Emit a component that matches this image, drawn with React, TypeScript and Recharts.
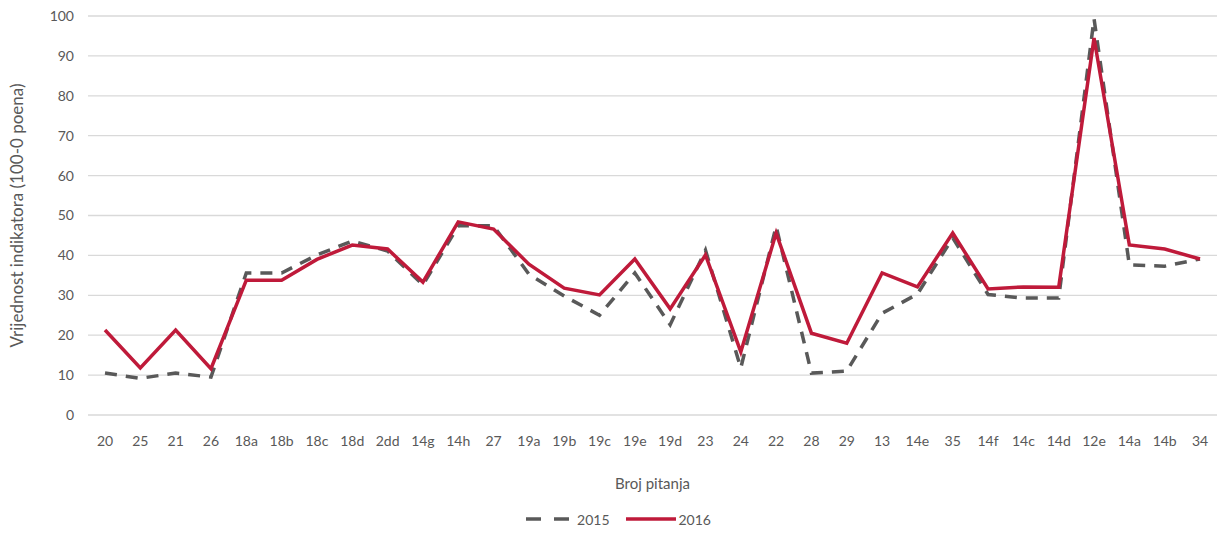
import {
  LineChart,
  Line,
  XAxis,
  YAxis,
  CartesianGrid,
  Legend,
} from 'recharts';

const questions = [
  '20', '25', '21', '26', '18a', '18b', '18c', '18d', '2dd', '14g', '14h',
  '27', '19a', '19b', '19c', '19e', '19d', '23', '24', '22', '28', '29',
  '13', '14e', '35', '14f', '14c', '14d', '12e', '14a', '14b', '34',
];

const values2015 = [
  10.5, 9.2, 10.5, 9.5, 35.6, 35.6, 40.1, 43.6, 41.1, 32.6, 47.4,
  47.4, 35.3, 29.8, 25, 35.6, 22.6, 41.3, 11.8, 47.3, 10.5, 11,
  25.5, 30.3, 44.4, 30.2, 29.3, 29.3, 99.3, 37.6, 37.3, 39.1,
];

const values2016 = [
  21.3, 11.8, 21.3, 11.6, 33.8, 33.8, 39, 42.6, 41.6, 33.3, 48.4,
  46.6, 37.8, 31.8, 30.1, 39.1, 26.6, 40.1, 15.8, 45.6, 20.5, 18,
  35.6, 32.1, 45.6, 31.6, 32.1, 32, 94.5, 42.6, 41.6, 39.1,
];

const yTicks = [0, 10, 20, 30, 40, 50, 60, 70, 80, 90, 100];

const data = questions.map((q, i) => ({
  q,
  y2015: values2015[i],
  y2016: values2016[i],
}));

const textColor = '#595959';
const font = 'Lato, "Open Sans", sans-serif';

function ChartLegend() {
  return (
    <div
      style={{
        height: 40,
        display: 'flex',
        justifyContent: 'center',
        alignItems: 'center',
        fontFamily: font,
        fontSize: 14,
        color: textColor,
        paddingLeft: 20,
        paddingTop: 12,
        boxSizing: 'border-box',
      }}
    >
      <svg width={46} height={10} style={{ marginRight: 5 }}>
        <line x1={0} y1={5} x2={46} y2={5} stroke="#595959" strokeWidth={3.5} strokeDasharray="15 13" />
      </svg>
      <span style={{ marginRight: 16 }}>2015</span>
      <svg width={50} height={10} style={{ marginRight: 3 }}>
        <line x1={0} y1={5} x2={50} y2={5} stroke="#bf1a3a" strokeWidth={3.5} />
      </svg>
      <span>2016</span>
    </div>
  );
}

export default function App() {
  return (
    <div style={{ position: 'absolute', left: 0, top: 0, background: '#fff' }}>
      <LineChart
        width={1217}
        height={533}
        data={data}
        margin={{ top: 16, right: 0, left: 0, bottom: 0 }}
      >
        <CartesianGrid vertical={false} stroke="#d9d9d9" strokeWidth={1.3} />
        <XAxis
          dataKey="q"
          axisLine={false}
          tickLine={false}
          interval={0}
          height={78}
          tickMargin={15}
          padding={{ left: 17, right: 17 }}
          tick={{ fill: textColor, fontSize: 14, fontFamily: font }}
          label={{
            value: 'Broj pitanja',
            position: 'insideBottom',
            offset: 4,
            fill: textColor,
            fontSize: 15,
            fontFamily: font,
          }}
        />
        <YAxis
          width={88}
          domain={[0, 100]}
          ticks={yTicks}
          axisLine={false}
          tickLine={false}
          tickMargin={8}
          tick={{ fill: textColor, fontSize: 14, fontFamily: font }}
          label={{
            value: 'Vrijednost indikatora (100-0 poena)',
            angle: -90,
            position: 'insideLeft',
            offset: 17,
            style: { textAnchor: 'middle' },
            fill: textColor,
            fontSize: 17,
            fontFamily: font,
          }}
        />
        <Legend verticalAlign="bottom" content={<ChartLegend />} />
        <Line
          dataKey="y2015"
          name="2015"
          stroke="#595959"
          strokeWidth={3.5}
          strokeDasharray="12 9"
          dot={false}
          activeDot={false}
          isAnimationActive={false}
        />
        <Line
          dataKey="y2016"
          name="2016"
          stroke="#bf1a3a"
          strokeWidth={3.5}
          dot={false}
          activeDot={false}
          isAnimationActive={false}
        />
      </LineChart>
    </div>
  );
}
